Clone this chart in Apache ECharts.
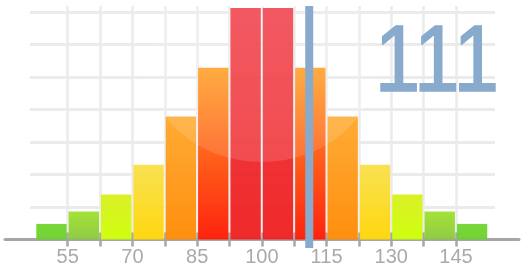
<!DOCTYPE html>
<html>
<head>
<meta charset="utf-8">
<style>
html,body{margin:0;padding:0;background:#fff;}
#chart{width:525px;height:272px;}
</style>
<script src="https://cdn.jsdelivr.net/npm/echarts@6/dist/echarts.min.js"></script>
</head>
<body>
<div id="chart"></div>
<script>
// ---- data ----
const binStarts = [47.5, 55, 62.5, 70, 77.5, 85, 92.5, 100, 107.5, 115, 122.5, 130, 137.5, 145];
const binWidth = 7.5;
const binValues = [2.4, 4.3, 6.9, 11.5, 18.9, 26.4, 35.6, 35.6, 26.4, 18.9, 11.5, 6.9, 4.3, 2.4];
const tickLabels = [55, 70, 85, 100, 115, 130, 145];
const score = 111;

// ---- styles ----
const topColors    = ['#6fd52c', '#9ee02a', '#d8ef1a', '#f8df48', '#ffa628', '#ff9a18', '#ef3540', '#ef3540', '#ff9a18', '#ffa628', '#f8df48', '#d8ef1a', '#9ee02a', '#6fd52c'];
const bottomColors = ['#6acf28', '#88c83a', '#ccff00', '#ffd500', '#ff8800', '#ff1500', '#ee1c1c', '#ee1c1c', '#ff1500', '#ff8800', '#ffd500', '#ccff00', '#88c83a', '#6acf28'];
const accent = '#88aacc';
const axisGray = '#a6a6a6';

const chart = echarts.init(document.getElementById('chart'), null, {renderer: 'canvas'});

const gridLayout = {top: 6, bottom: 32.5};
const option = {
  backgroundColor: '#ffffff',
  animation: false,
  grid: [
    Object.assign({left: 5, right: 6}, gridLayout),
    Object.assign({left: 30, right: 30}, gridLayout),
    Object.assign({left: 67.7, right: 69}, gridLayout),
    Object.assign({left: 67.7, right: 69}, gridLayout)
  ],
  xAxis: [
    {gridIndex: 0, type: 'value', min: 0, max: 1,
     axisLine: {show: true, lineStyle: {color: axisGray, width: 3}},
     axisTick: {show: false}, axisLabel: {show: false}, splitLine: {show: false}},
    {gridIndex: 1, type: 'value', min: 46.27, max: 154.06, show: false},
    {gridIndex: 2, type: 'value', min: 55, max: 145, interval: 7.5,
     axisLine: {show: false},
     axisTick: {show: true, length: 7, lineStyle: {color: axisGray, width: 2.5}},
     splitLine: {show: true, lineStyle: {color: '#ebebeb', width: 2.5}},
     axisLabel: {show: true, margin: 8, fontSize: 20, color: '#aaaaaa', fontFamily: 'Liberation Sans',
       formatter: function (v) {
         return tickLabels.some(t => Math.abs(t - v) < 1e-6) ? String(v) : '';
       }}},
    {gridIndex: 3, type: 'value', min: 55, max: 145, interval: 7.5,
     axisLine: {show: false},
     axisTick: {show: true, inside: true, length: 7, lineStyle: {color: axisGray, width: 2.5}},
     splitLine: {show: false}, axisLabel: {show: false}}
  ],
  yAxis: [
    {gridIndex: 0, type: 'value', min: 0, max: 1, show: false},
    {gridIndex: 1, type: 'value', min: 0, max: 35.9, interval: 5,
     axisLine: {show: false}, axisTick: {show: false}, axisLabel: {show: false},
     splitLine: {show: true, showMinLine: false, showMaxLine: false, lineStyle: {color: '#ebebeb', width: 3}}},
    {gridIndex: 2, type: 'value', min: 0, max: 1, show: false},
    {gridIndex: 3, type: 'value', min: 0, max: 1, show: false}
  ],
  graphic: [
    {type: 'ellipse', z: 5, silent: true,
     shape: {cx: 262, cy: 62, rx: 115, ry: 100},
     style: {fill: 'rgba(255,255,255,0.13)'}},
    {type: 'text', z: 12, x: 499, y: 65, scaleX: 0.87,
     style: {text: String(score), font: '94px "Liberation Sans", Arial, sans-serif',
             fill: accent, stroke: accent, lineWidth: 1.6,
             textAlign: 'right', textVerticalAlign: 'middle'}}
  ],
  series: [
    {
      type: 'custom', xAxisIndex: 1, yAxisIndex: 1, z: 2,
      data: binStarts.map((s, i) => [s, s + binWidth, binValues[i], i]),
      encode: {x: [0, 1], y: 2},
      renderItem: function (params, api) {
        const i = api.value(3);
        const p0 = api.coord([api.value(0), api.value(2)]);
        const p1 = api.coord([api.value(1), 0]);
        return {
          type: 'rect',
          shape: {x: p0[0] + 1, y: p0[1], width: p1[0] - p0[0] - 2, height: p1[1] - p0[1]},
          style: {
            fill: new echarts.graphic.LinearGradient(0, 0, 0, 1, [
              {offset: 0, color: topColors[i]},
              {offset: 1, color: bottomColors[i]}
            ]),
            opacity: 0.94
          }
        };
      }
    },
    {
      type: 'custom', xAxisIndex: 1, yAxisIndex: 1, z: 10, clip: false,
      data: [[score]],
      encode: {x: 0},
      renderItem: function (params, api) {
        const top = api.coord([api.value(0), 35.9]);
        const bottom = api.coord([api.value(0), -1.3]);
        return {
          type: 'rect',
          shape: {x: top[0] - 4, y: top[1], width: 8, height: bottom[1] - top[1]},
          style: {fill: accent}
        };
      }
    }
  ]
};
chart.setOption(option);
</script>
</body>
</html>
